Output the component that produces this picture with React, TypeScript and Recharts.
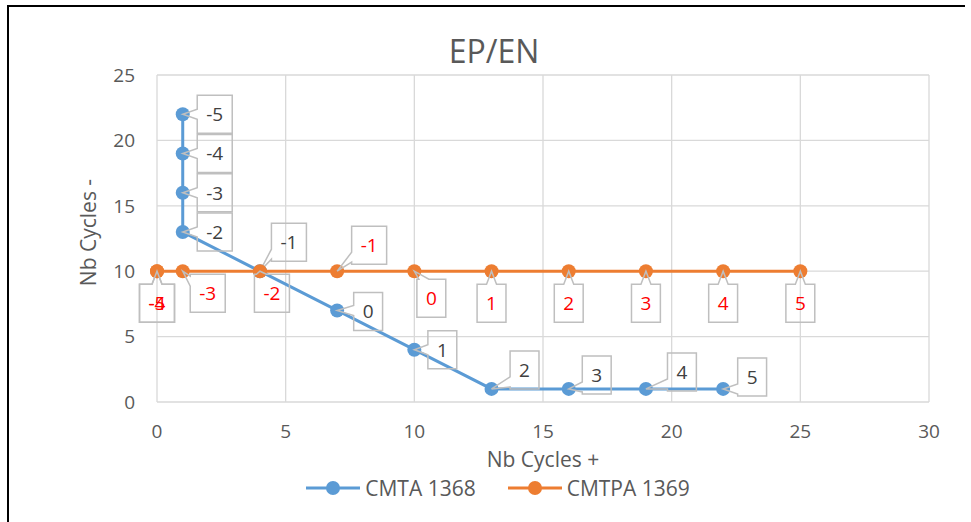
import React from 'react';
import { ScatterChart, Scatter, XAxis, YAxis, CartesianGrid, Legend } from 'recharts';

// ---- data ----
const cmtaX = [1, 1, 1, 1, 4, 7, 10, 13, 16, 19, 22];
const cmtaY = [22, 19, 16, 13, 10, 7, 4, 1, 1, 1, 1];
const cmtaLabels = ['-5', '-4', '-3', '-2', '-1', '0', '1', '2', '3', '4', '5'];

const cmtpaX = [0, 0, 1, 4, 7, 10, 13, 16, 19, 22, 25];
const cmtpaY = [10, 10, 10, 10, 10, 10, 10, 10, 10, 10, 10];
const cmtpaLabels = ['-5', '-4', '-3', '-2', '-1', '0', '1', '2', '3', '4', '5'];

const xTicks = [0, 5, 10, 15, 20, 25, 30];
const yTicks = [0, 5, 10, 15, 20, 25];

const seriesNames = ['CMTA 1368', 'CMTPA 1369'];

// ---- style: callout box centre offsets relative to the point ----
const cmtaCallouts = [[32, 0], [32, 0], [32, 0], [32, 0], [29, -29], [31, 1], [28, 0], [33, -19], [28, -14], [36, -17], [29, -12]];
const cmtpaCallouts = [[0, 32], [0, 32], [25, 22], [12, 22], [32, -26], [17, 27], [0, 32], [0, 32], [0, 32], [0, 32], [0, 32]];

const BLUE = '#5B9BD5';
const ORANGE = '#ED7D31';
const GREY_TEXT = '#595959';
const FONT = "'Open Sans', sans-serif";

const build = (xs: number[], ys: number[], labels: string[]) =>
  xs.map((x, i) => ({ x, y: ys[i], label: labels[i], i }));

const cmtaData = build(cmtaX, cmtaY, cmtaLabels);
const cmtpaData = build(cmtpaX, cmtpaY, cmtpaLabels);

const textWidth = (s: string) =>
  s.split('').reduce((acc, ch) => acc + (ch === '-' ? 6.1 : 10.9), 0);

const clamp = (v: number, a: number, b: number) => Math.max(a, Math.min(b, v));

function calloutPath(L: number, T: number, R: number, B: number, px: number, py: number) {
  const hw = 5;
  const gaps = { left: L - px, right: px - R, top: T - py, bottom: py - B };
  let side: keyof typeof gaps = 'left';
  (Object.keys(gaps) as (keyof typeof gaps)[]).forEach((k) => {
    if (gaps[k] > gaps[side]) side = k;
  });
  const pts: [number, number][] = [];
  const tip: [number, number] = [px, py];
  if (side === 'top') {
    const c = clamp(px, L + hw + 2, R - hw - 2);
    pts.push([L, T], [c - hw, T], tip, [c + hw, T], [R, T], [R, B], [L, B]);
  } else if (side === 'right') {
    const c = clamp(py, T + hw + 2, B - hw - 2);
    pts.push([L, T], [R, T], [R, c - hw], tip, [R, c + hw], [R, B], [L, B]);
  } else if (side === 'bottom') {
    const c = clamp(px, L + hw + 2, R - hw - 2);
    pts.push([L, T], [R, T], [R, B], [c + hw, B], tip, [c - hw, B], [L, B]);
  } else {
    const c = clamp(py, T + hw + 2, B - hw - 2);
    pts.push([L, T], [R, T], [R, B], [L, B], [L, c + hw], tip, [L, c - hw]);
  }
  return 'M' + pts.map((p) => `${p[0]},${p[1]}`).join('L') + 'Z';
}

const makeShape = (color: string, textColor: string, offsets: number[][]) => (props: any) => {
  const { cx, cy } = props;
  const p = props.payload ?? props;
  const [ox, oy] = offsets[p.i] ?? [30, 0];
  const w = textWidth(String(p.label)) + 18;
  const h = 38;
  const L = cx + ox - w / 2;
  const T = cy + oy - h / 2;
  const R = L + w;
  const B = T + h;
  return (
    <g>
      <circle cx={cx} cy={cy} r={7} fill={color} />
      <path d={calloutPath(L, T, R, B, cx, cy)} fill="none" stroke="#BFBFBF" strokeWidth={1.5} />
      <text
        x={(L + R) / 2}
        y={(T + B) / 2}
        dy="0.36em"
        textAnchor="middle"
        fill={textColor}
        fontSize={19}
        fontFamily={FONT}
      >
        {p.label}
      </text>
    </g>
  );
};

const XLabel = (props: any) => {
  const vb = props.viewBox || { x: 157, y: 402, width: 772, height: 71 };
  return (
    <text
      x={vb.x + vb.width / 2}
      y={vb.y + 57}
      dominantBaseline="central"
      textAnchor="middle"
      fill={GREY_TEXT}
      fontSize={21}
      fontFamily={FONT}
    >
      Nb Cycles +
    </text>
  );
};

const YLabel = (props: any) => {
  const vb = props.viewBox || { x: 0, y: 75, width: 157, height: 327 };
  const cx = vb.x + 88;
  const cy = vb.y + vb.height / 2 - 6;
  return (
    <text
      x={0}
      y={0}
      transform={`translate(${cx}, ${cy}) rotate(-90)`}
      dominantBaseline="central"
      textAnchor="middle"
      fill={GREY_TEXT}
      fontSize={21}
      fontFamily={FONT}
    >
      Nb Cycles -
    </text>
  );
};

const LegendIcon = ({ color }: { color: string }) => (
  <svg width={54} height={20} style={{ display: 'block' }}>
    <line x1={0} x2={54} y1={10} y2={10} stroke={color} strokeWidth={3} />
    <circle cx={27} cy={10} r={7} fill={color} />
  </svg>
);

const renderLegend = () => (
  <div
    style={{
      height: 30,
      width: 971,
      display: 'flex',
      justifyContent: 'center',
      alignItems: 'center',
      paddingLeft: 25,
      boxSizing: 'border-box',
      fontFamily: FONT,
    }}
  >
    {[BLUE, ORANGE].map((c, i) => (
      <div
        key={i}
        style={{ display: 'flex', alignItems: 'center', marginRight: i === 0 ? 32 : 0 }}
      >
        <LegendIcon color={c} />
        <span style={{ marginLeft: 5, fontSize: 21, color: GREY_TEXT, lineHeight: '30px' }}>
          {seriesNames[i]}
        </span>
      </div>
    ))}
  </div>
);

export default function App() {
  return (
    <div
      style={{
        position: 'absolute',
        left: 0,
        top: 0,
        width: 971,
        height: 522,
        overflow: 'hidden',
        background: '#fff',
        fontFamily: FONT,
      }}
    >
      <div
        style={{
          position: 'absolute',
          left: 7,
          top: 5,
          width: 956,
          height: 600,
          borderTop: '2px solid #000',
          borderLeft: '2px solid #000',
        }}
      />
      <div
        style={{
          position: 'absolute',
          left: 0,
          top: 35,
          width: 988,
          textAlign: 'center',
          fontSize: 32,
          lineHeight: '32px',
          color: GREY_TEXT,
          fontFamily: FONT,
        }}
      >
        EP/EN
      </div>
      <div style={{ position: 'absolute', left: 0, top: 0 }}>
        <ScatterChart width={971} height={522} margin={{ top: 75, right: 42, bottom: 19, left: 0 }}>
          <CartesianGrid stroke="#D9D9D9" strokeWidth={1.3} />
          <XAxis
            type="number"
            dataKey="x"
            domain={[0, 30]}
            ticks={xTicks}
            axisLine={false}
            tickLine={false}
            tickSize={0}
            tickMargin={23}
            height={71}
            tick={{ fill: GREY_TEXT, fontSize: 19, fontFamily: FONT }}
            label={XLabel}
          />
          <YAxis
            type="number"
            dataKey="y"
            domain={[0, 25]}
            ticks={yTicks}
            axisLine={false}
            tickLine={false}
            tickSize={0}
            tickMargin={22}
            width={157}
            tick={{ fill: GREY_TEXT, fontSize: 19, fontFamily: FONT }}
            label={YLabel}
          />
          <Legend verticalAlign="bottom" height={30} content={renderLegend} wrapperStyle={{ left: 0, width: 971 }} />
          <Scatter
            name={seriesNames[0]}
            data={cmtaData}
            fill={BLUE}
            line={{ stroke: BLUE, strokeWidth: 3 }}
            lineType="joint"
            shape={makeShape(BLUE, '#404040', cmtaCallouts)}
            isAnimationActive={false}
          />
          <Scatter
            name={seriesNames[1]}
            data={cmtpaData}
            fill={ORANGE}
            line={{ stroke: ORANGE, strokeWidth: 3 }}
            lineType="joint"
            shape={makeShape(ORANGE, '#FF0000', cmtpaCallouts)}
            isAnimationActive={false}
          />
        </ScatterChart>
      </div>
    </div>
  );
}
